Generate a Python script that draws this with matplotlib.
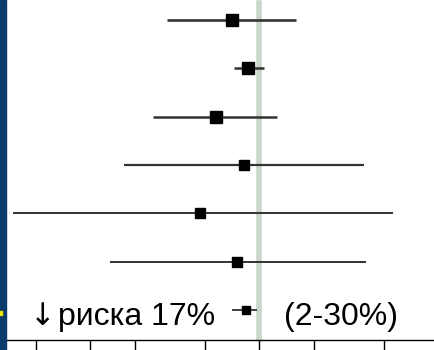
import matplotlib.pyplot as plt
import matplotlib.patches as patches

# hazard ratios and confidence limits, top row first
hr = [0.895, 0.956, 0.838, 0.940, 0.785, 0.913, 0.948]
ci_low = [0.685, 0.902, 0.647, 0.574, 0.364, 0.542, 0.895]
ci_high = [1.164, 1.021, 1.077, 1.54, 1.73, 1.553, 0.992]
box_size = [8.5, 8, 8.5, 7.5, 7, 6.5, 5.5]
line_w = [1.9, 1.8, 1.8, 1.6, 1.4, 1.4, 1.3]

x_ticks = [0.4, 0.5, 0.6, 0.8, 1.0, 1.25, 1.67]

summary_arrow = "↓"
summary_left = "риска 17%"
summary_right = "(2-30%)"

fig = plt.figure(figsize=(4.34, 3.5), dpi=100)
ax = fig.add_axes([0, 10 / 350, 1, 340 / 350])

n = len(hr)
for i in range(n):
    y = n - 1 - i
    ax.plot([ci_low[i], ci_high[i]], [y, y], color="#333333", lw=line_w[i],
            solid_capstyle="butt", zorder=3)
    ax.plot(hr[i], y, marker="s", ms=box_size[i], color="black", zorder=4)

# line of no effect
ax.axvline(1.0, ymin=0, ymax=1 - 3 / 340, color="#cad6ca", lw=4, zorder=2)

ax.set_xscale("log")
ax.set_xlim(0.345, 2.05)
ax.set_ylim(-0.621, 6.414)
ax.set_xticks(x_ticks)
ax.set_xticks([], minor=True)
ax.set_xticklabels([])
ax.set_yticks([])
ax.tick_params(axis="x", direction="out", length=7.5, width=1, color="black")
for s in ["top", "left", "right"]:
    ax.spines[s].set_visible(False)
ax.spines["bottom"].set_linewidth(1)

ax.text(30 / 434, 15 / 340, summary_arrow, transform=ax.transAxes,
        fontsize=22, family="DejaVu Sans", va="baseline", ha="left")
ax.text(58 / 434, 15 / 340, summary_left, transform=ax.transAxes,
        fontsize=23, family="Liberation Sans", va="baseline", ha="left")
ax.text(284 / 434, 15 / 340, summary_right, transform=ax.transAxes,
        fontsize=23, family="Liberation Sans", va="baseline", ha="left")

# slide edge on the left
fig.patches.append(patches.Rectangle((0, 0), 6 / 434, 1, transform=fig.transFigure,
                                     color="#0b3a6b", zorder=10))
fig.patches.append(patches.Rectangle((0, 35 / 350), 2 / 434, 4 / 350,
                                     transform=fig.transFigure, color="#f2e600", zorder=11))

fig.savefig("out.png", dpi=100)
